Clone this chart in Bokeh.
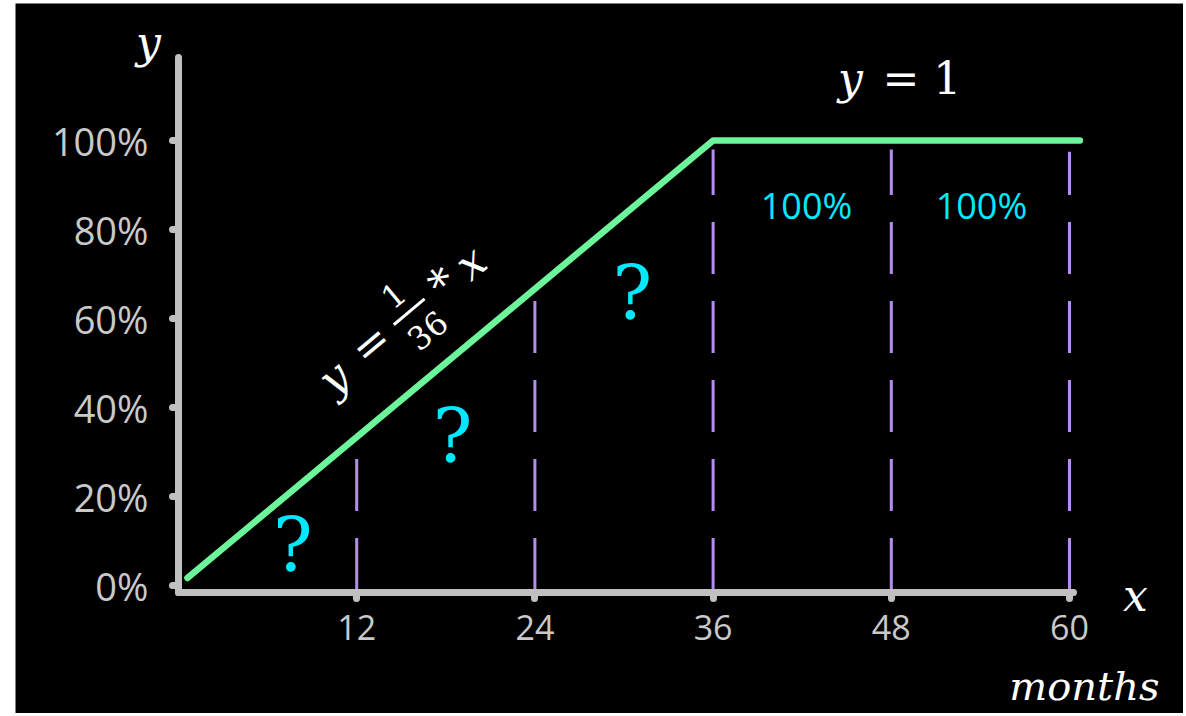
from bokeh.plotting import figure
from bokeh.models import Range1d, FixedTicker, NumeralTickFormatter
from bokeh.core.properties import value
from bokeh.embed import file_html
from bokeh.resources import INLINE

# ---- data ----
curve_months = [0.6, 36, 60.7]
curve_share = [0.017, 1.0, 1.0]

boundary_months = [12, 24, 36, 48, 60]
boundary_top = [0.30, 0.65, 0.98, 0.98, 0.975]

x_ticks = [12, 24, 36, 48, 60]
y_ticks = [0.0, 0.2, 0.4, 0.6, 0.8, 1.0]

question_x = [7.7, 18.45, 30.57]
question_y = [0.09, 0.337, 0.658]
question_text = ["?", "?", "?"]

known_x = [42.29, 54.07]
known_y = [0.854, 0.854]
known_text = ["100%", "100%"]

# formula y = 1/36 * x (rotated along the line)
f_var_x = [10.44, 19.66]
f_var_y = [0.467, 0.726]
f_var_text = ["y", "x"]
f_op_x = [12.93, 17.78]
f_op_y = [0.544, 0.679]
f_op_text = ["=", "*"]
f_num_x = [14.48, 16.77]
f_num_y = [0.652, 0.573]
f_num_text = ["1", "36"]
ANG = 0.694

# axis variable names
var_x = [-2.02, 64.44]
var_y = [1.22, -0.0225]
var_text = ["y", "x"]
unit_x = [61.0]
unit_y = [-0.225]
unit_text = ["months"]

SERIF = "DejaVu Serif"
SANS = "Open Sans"

X0, X1 = -10.976, 67.677
Y0, Y1 = -0.2876, 1.3079
AXIS_Y = -0.0157
Y_TOP = 1.1865
X_END = 60.27

p = figure(frame_width=1168, frame_height=710,
           min_border_left=15, min_border_right=0,
           min_border_top=3, min_border_bottom=0,
           x_range=Range1d(X0, X1), y_range=Range1d(Y0, Y1),
           output_backend="svg", toolbar_location=None,
           background_fill_color="black", border_fill_color="white")
p.outline_line_color = None
p.grid.visible = False

AX = "#c0c0c0"
for ax in (p.xaxis[0], p.yaxis[0]):
    ax.axis_line_color = AX
    ax.axis_line_width = 7
    ax.axis_line_cap = "round"
    ax.major_tick_line_color = AX
    ax.major_tick_line_width = 7
    ax.major_tick_line_cap = "round"
    ax.major_tick_in = 0
    ax.major_tick_out = 6
    ax.minor_tick_line_color = None
    ax.major_label_text_color = "#c9c9c9"
    ax.major_label_text_font = SANS

p.xaxis.fixed_location = AXIS_Y
p.xaxis.bounds = (0, X_END)
p.xaxis.ticker = FixedTicker(ticks=x_ticks)
p.xaxis.major_label_text_font_size = "34px"
p.xaxis.major_label_standoff = 16
p.yaxis.fixed_location = 0
p.yaxis.bounds = (AXIS_Y, Y_TOP)
p.yaxis.ticker = FixedTicker(ticks=y_ticks)
p.yaxis.formatter = NumeralTickFormatter(format="0%")
p.yaxis.major_label_text_font_size = "38px"
p.yaxis.major_label_standoff = 24

# dashed boundaries
p.segment(x0=boundary_months, y0=[-0.01] * 5, x1=boundary_months, y1=boundary_top,
          line_color="#b58cf0", line_width=3, line_dash="52 27")

# curve
p.line(curve_months, curve_share, line_color="#6cf59a", line_width=6.5,
       line_cap="round", line_join="round")

# question marks
p.text(x=question_x, y=question_y, text=question_text, text_color="#00eaff",
       text_font=value(SERIF), text_font_size="74px",
       text_align="center", text_baseline="middle")

# known 100% cells
p.text(x=known_x, y=known_y, text=known_text, text_color="#00eaff",
       text_font=value(SANS), text_font_size="36px",
       text_align="center", text_baseline="middle")

# y = 1
p.text(x=[45.25], y=[1.139], text=["y"], text_color="white",
       text_font=value(SERIF), text_font_style="italic", text_font_size="44px",
       text_align="center", text_baseline="middle")
p.text(x=[47.4], y=[1.139], text=["= 1"], text_color="white",
       text_font=value(SERIF), text_font_size="44px",
       text_align="left", text_baseline="middle")

# rotated formula
p.text(x=f_var_x, y=f_var_y, text=f_var_text, angle=ANG, text_color="white",
       text_font=value(SERIF), text_font_style="italic", text_font_size="44px",
       text_align="center", text_baseline="middle")
p.text(x=f_op_x, y=f_op_y, text=f_op_text, angle=ANG, text_color="white",
       text_font=value(SERIF), text_font_size="44px",
       text_align="center", text_baseline="middle")
p.text(x=f_num_x, y=f_num_y, text=f_num_text, angle=ANG, text_color="white",
       text_font=value(SERIF), text_font_size="32px",
       text_align="center", text_baseline="middle")
p.segment(x0=[14.50], y0=[0.586], x1=[16.57], y1=[0.644], line_color="white", line_width=3)

# axis variable labels
p.text(x=var_x, y=var_y, text=var_text, text_color="white",
       text_font=value(SERIF), text_font_style="italic", text_font_size="44px",
       text_align="center", text_baseline="middle")
p.text(x=unit_x, y=unit_y, text=unit_text, text_color="white",
       text_font=value(SERIF), text_font_style="italic", text_font_size="40px",
       text_align="center", text_baseline="middle")

open("out.html", "w").write(file_html(p, INLINE))
